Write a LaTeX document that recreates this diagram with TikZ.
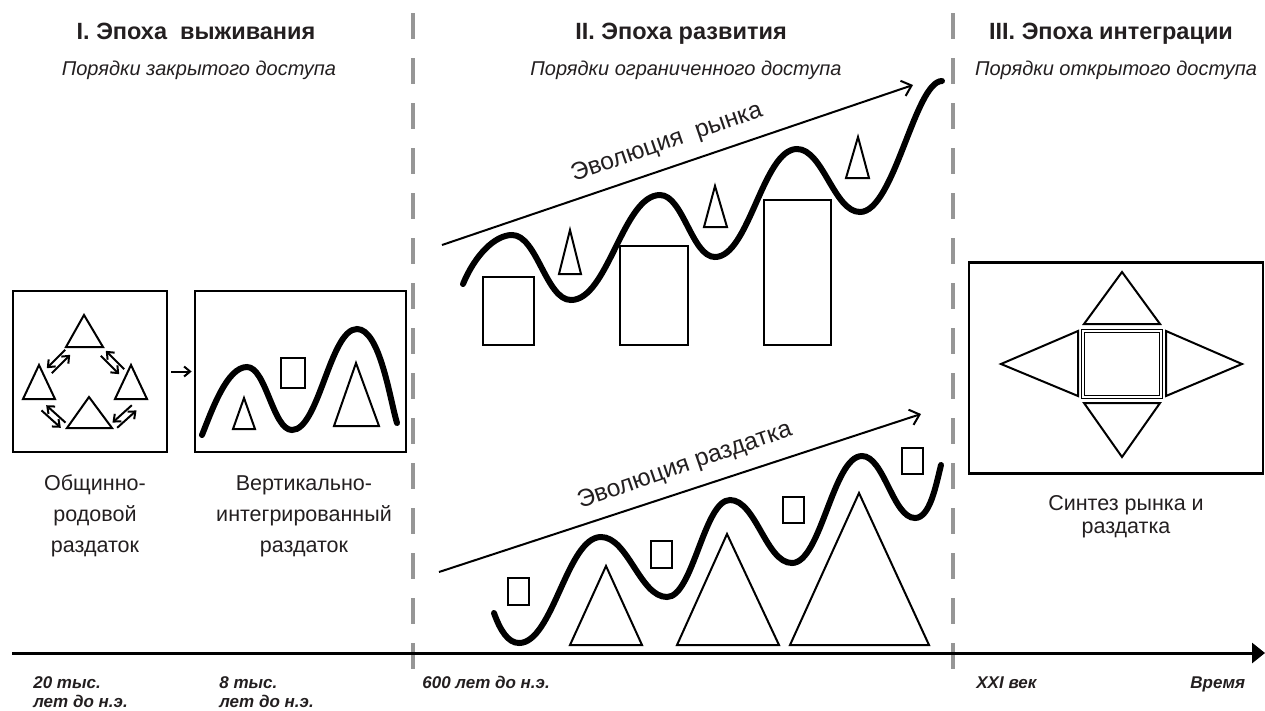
\documentclass[tikz,border=0pt]{standalone}
\usepackage{fontspec}
\setmainfont{Liberation Sans}
\usetikzlibrary{arrows.meta}

\definecolor{ink}{RGB}{35,31,32}
\definecolor{divgray}{RGB}{150,150,150}

\tikzset{every picture/.style={line width=0.75pt}}
\tikzset{
  epoch/.style={font=\bfseries\fontsize{23.5}{27}\selectfont, text=ink, anchor=base, inner sep=0},
  order/.style={font=\itshape\fontsize{20}{24}\selectfont, text=ink, anchor=base, inner sep=0},
  caption/.style={font=\fontsize{21.5}{31}\selectfont, text=ink, align=center, anchor=base, inner sep=0},
  when/.style={font=\bfseries\itshape\fontsize{17}{19}\selectfont, text=ink, align=left, anchor=base west, inner sep=0},
  trendlabel/.style={font=\fontsize{24.5}{28}\selectfont, text=ink, rotate=19, inner sep=0},
  divider/.style={draw=divgray, line width=4pt, dash pattern=on 26pt off 19pt},
  timeline/.style={line width=3pt, -{Triangle[length=13pt,width=20pt]}},
  panel/.style={draw, line width=2.7pt, inner sep=0},
  figure/.style={line width=2pt},
  wave/.style={line width=6pt, line cap=round},
  trend/.style={line width=2pt, -{Straight Barb[length=9pt,width=16pt]}},
  swaptip/.style={line width=2pt, -{Straight Barb[length=6pt,width=10pt]}}
}

% pair of opposite arrows between two groups
\newcommand{\tradepair}[3]{%
  \begin{scope}[shift={(#1,#2)},rotate=#3]
    \draw [swaptip] (-13,3.5) -- (13,3.5);
    \draw [swaptip] (13,-3.5) -- (-13,-3.5);
  \end{scope}}

\begin{document}
\begin{tikzpicture}[x=1pt,y=1pt,yscale=-1,xscale=1]
\useasboundingbox (0,0) rectangle (1265,710);

%Epoch dividers
\draw [divider] (413,13) -- (413,669);
\draw [divider] (953,13) -- (953,669);

%Time axis
\coordinate (t0) at (12,653);
\coordinate (t1) at (1265,653);
\draw [timeline] (t0) -- (t1);

% Text Node
\node (ep1) [epoch] at (196,39) {I. Эпоха\ \ выживания};
\node (ep2) [epoch] at (681,39) {II. Эпоха развития};
\node (ep3) [epoch] at (1111,39) {III. Эпоха интеграции};
% Text Node
\node (or1) [order] at (199,75) {Порядки закрытого доступа};
\node (or2) [order] at (686,75) {Порядки ограниченного доступа};
\node (or3) [order] at (1116,75) {Порядки открытого доступа};

%Shape: Rectangle
\node (box1) [panel, minimum width=154, minimum height=161] at (90,371.5) {};
\node (box2) [panel, minimum width=211, minimum height=161] at (300.5,371.5) {};
\node (box3) [panel, minimum width=294, minimum height=211] at (1116,368) {};
%Straight Lines
\draw [line width=2pt, -{Straight Barb[length=6pt,width=10pt]}, shorten <=3pt, shorten >=2pt] (box1.east) -- (box2.west);

%Shape: Triangle (box 1)
\draw [figure] (66,347) -- (84,315) -- (103,347) -- cycle;
\draw [figure] (23,399) -- (39,365) -- (55,399) -- cycle;
\draw [figure] (115,399) -- (131,365) -- (147,399) -- cycle;
\draw [figure] (67,428) -- (89,397) -- (112,428) -- cycle;
\tradepair{58.5}{361.5}{-45}
\tradepair{112.5}{362.5}{45}
\tradepair{53.5}{416.5}{42}
\tradepair{124.5}{416.5}{-42}

%Shape: box 2
\draw [figure] (233,429) -- (244,398) -- (255,429) -- cycle;
\draw [figure] (281,358) rectangle (305,388);
\draw [figure] (334,426) -- (356,363) -- (379,426) -- cycle;
\draw [wave] (202,435) .. controls (212,410) and (227,367) .. (247,367) .. controls (266,367) and (273,430) .. (292,430) .. controls (319,430) and (330,329) .. (357,329) .. controls (380,329) and (390,400) .. (397,423);

% Text Node
\node (cap1) [caption] at (95,552) {Общинно-\\родовой\\раздаток};
\node (cap2) [caption] at (304,552) {Вертикально-\\интегрированный\\раздаток};

%Market evolution
\coordinate (m0) at (442,245);
\coordinate (m1) at (913,85);
\draw [trend] (m0) -- (m1);
\node (mlabel) [trendlabel] at (667,143) {Эволюция\ \ рынка};
\draw [figure] (483,277) rectangle (534,345);
\draw [figure] (620,246) rectangle (688,345);
\draw [figure] (764,200) rectangle (831,345);
\draw [figure] (559,274) -- (570,230) -- (581,274) -- cycle;
\draw [figure] (704,227) -- (715,186) -- (727,227) -- cycle;
\draw [figure] (846,178) -- (858,137) -- (869,178) -- cycle;
\draw [wave] (463,284) .. controls (475,255) and (495,235) .. (512,235) .. controls (537,235) and (546,300) .. (571,300) .. controls (608,300) and (623,195) .. (660,195) .. controls (683,195) and (692,257) .. (715,257) .. controls (749,257) and (763,149) .. (797,149) .. controls (823,149) and (834,212) .. (860,212) .. controls (894,212) and (915,81) .. (942,81);

%Distribution evolution
\coordinate (r0) at (439,572);
\coordinate (r1) at (921,414);
\draw [trend] (r0) -- (r1);
\node (rlabel) [trendlabel] at (685,466) {Эволюция раздатка};
\draw [figure] (508,578) rectangle (529,605);
\draw [figure] (651,541) rectangle (672,568);
\draw [figure] (783,497) rectangle (804,523);
\draw [figure] (902,448) rectangle (923,474);
\draw [figure] (570,645) -- (606,566) -- (642,645) -- cycle;
\draw [figure] (677,645) -- (727,534) -- (779,645) -- cycle;
\draw [figure] (790,645) -- (859,493) -- (929,645) -- cycle;
\draw [wave] (494,613) .. controls (500,630) and (508,643) .. (519,643) .. controls (553,643) and (567,537) .. (601,537) .. controls (628,537) and (640,597) .. (667,597) .. controls (693,597) and (704,500) .. (730,500) .. controls (756,500) and (766,563) .. (792,563) .. controls (821,563) and (833,456) .. (862,456) .. controls (884,456) and (893,518) .. (915,518) .. controls (930,518) and (936,485) .. (941,465);

%Synthesis (box 3)
\draw [figure] (1084,324) -- (1122,272) -- (1160,324) -- cycle;
\draw [figure] (1084,403) -- (1122,457) -- (1160,403) -- cycle;
\draw [figure] (1078,331) -- (1001,364) -- (1078,396) -- cycle;
\draw [figure] (1166,331) -- (1242,364) -- (1166,396) -- cycle;
\draw [line width=1.3pt, double, double distance=1.2pt] (1083,331) rectangle (1161,397);
% Text Node
\node (cap3) [caption, font=\fontsize{21.5}{23.5}\selectfont] at (1126,533.5) {Синтез рынка и\\раздатка};

% Text Node
\node (d1) [when] at (33,707) {20 тыс.\\лет до н.э.};
\node (d2) [when] at (219,707) {8 тыс.\\лет до н.э.};
\node (d3) [when] at (422,688) {600 лет до н.э.};
\node (d4) [when] at (976,688) {XXI век};
\node (d5) [when] at (1190,688) {Время};

\end{tikzpicture}
\end{document}
